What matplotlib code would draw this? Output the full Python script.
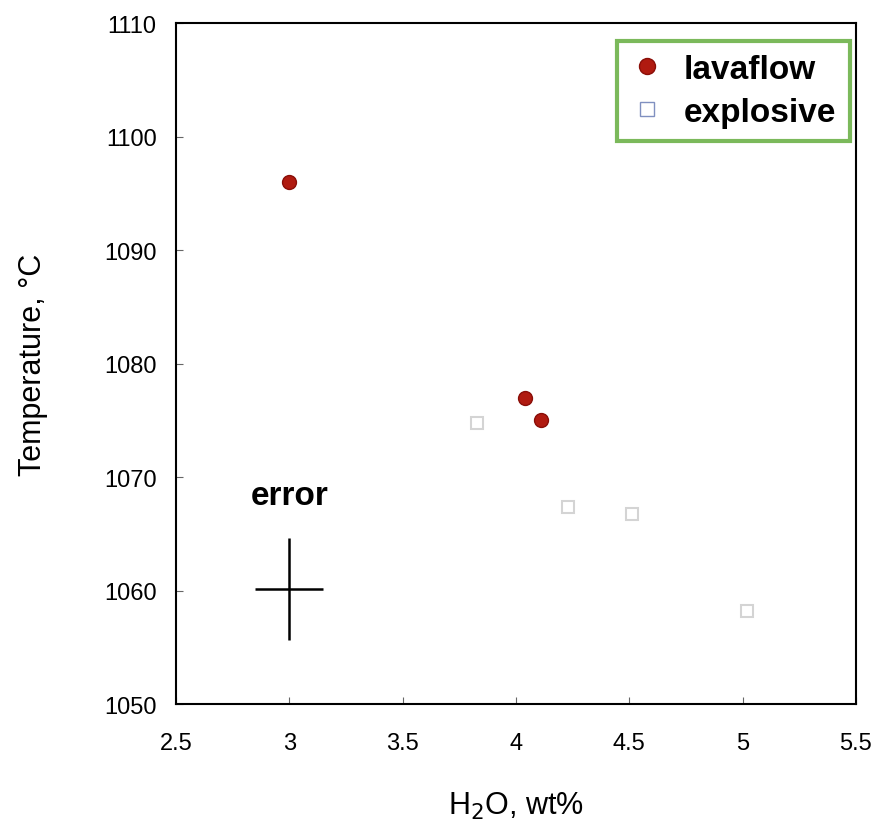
import matplotlib
matplotlib.use("Agg")
import matplotlib.pyplot as plt

plt.rcParams['font.family'] = ['Liberation Sans', 'DejaVu Sans']

# lava flow samples
lava_h2o = [3.0, 4.04, 4.11]
lava_t = [1096, 1077, 1075]

# explosive samples
expl_h2o = [3.83, 4.23, 4.51, 5.02]
expl_t = [1074.8, 1067.4, 1066.7, 1058.2]

# error cross
err_x, err_y = 3.0, 1060.1
err_dx, err_dy = 0.15, 4.5

xticks = [2.5, 3, 3.5, 4, 4.5, 5, 5.5]
xticklabels = ['2.5', '3', '3.5', '4', '4.5', '5', '5.5']
yticks = [1050, 1060, 1070, 1080, 1090, 1100, 1110]


def main():
	fig = plt.figure(figsize=(8.77, 8.37), dpi=100)
	ax = fig.add_axes([0.2007, 0.1577, 0.7753, 0.8136])

	ax.plot(lava_h2o, lava_t, 'o', color='#b01a10', markersize=10,
		markeredgecolor='#8a0e08', label='lavaflow')
	ax.plot(expl_h2o, expl_t, 's', markerfacecolor='white', markersize=9,
		markeredgecolor='#d4d4d4', markeredgewidth=1.5, label='explosive')

	ax.errorbar([err_x], [err_y], xerr=[err_dx], yerr=[err_dy], fmt='none',
		ecolor='black', elinewidth=1.8, capsize=0)
	ax.text(err_x, err_y + 6.9, 'error', ha='center', va='bottom',
		fontsize=24, fontweight='bold')

	ax.set_xlim(2.5, 5.5)
	ax.set_ylim(1050, 1110)
	ax.set_xticks(xticks)
	ax.set_xticklabels(xticklabels)
	ax.set_yticks(yticks)
	ax.tick_params(direction='in', length=5, width=0.8, labelsize=17, color='#666666')
	ax.tick_params(axis='x', pad=20)
	ax.tick_params(axis='y', pad=14)
	for s in ax.spines.values():
		s.set_linewidth(1.5)

	ax.set_xlabel('H$_2$O, wt%', fontsize=22, labelpad=26)
	ax.set_ylabel('Temperature, °C', fontsize=22, labelpad=40)

	# legend with a blue-ish square handle like the reference
	leg = ax.legend(loc='upper right', bbox_to_anchor=(0.991, 0.974),
		fontsize=24, frameon=True, fancybox=False,
		handletextpad=0.6, borderpad=0.4, labelspacing=0.35, handlelength=1.0,
		borderaxespad=0, markerscale=1.15)
	leg.get_frame().set_edgecolor('#5aa832')
	leg.get_frame().set_linewidth(3)
	leg.legend_handles[1].set_markeredgecolor('#8090c0')
	leg.legend_handles[1].set_markeredgewidth(1)
	for t in leg.get_texts():
		t.set_fontweight('bold')

	fig.savefig('out.png', dpi=100)


if __name__ == '__main__':
	main()
